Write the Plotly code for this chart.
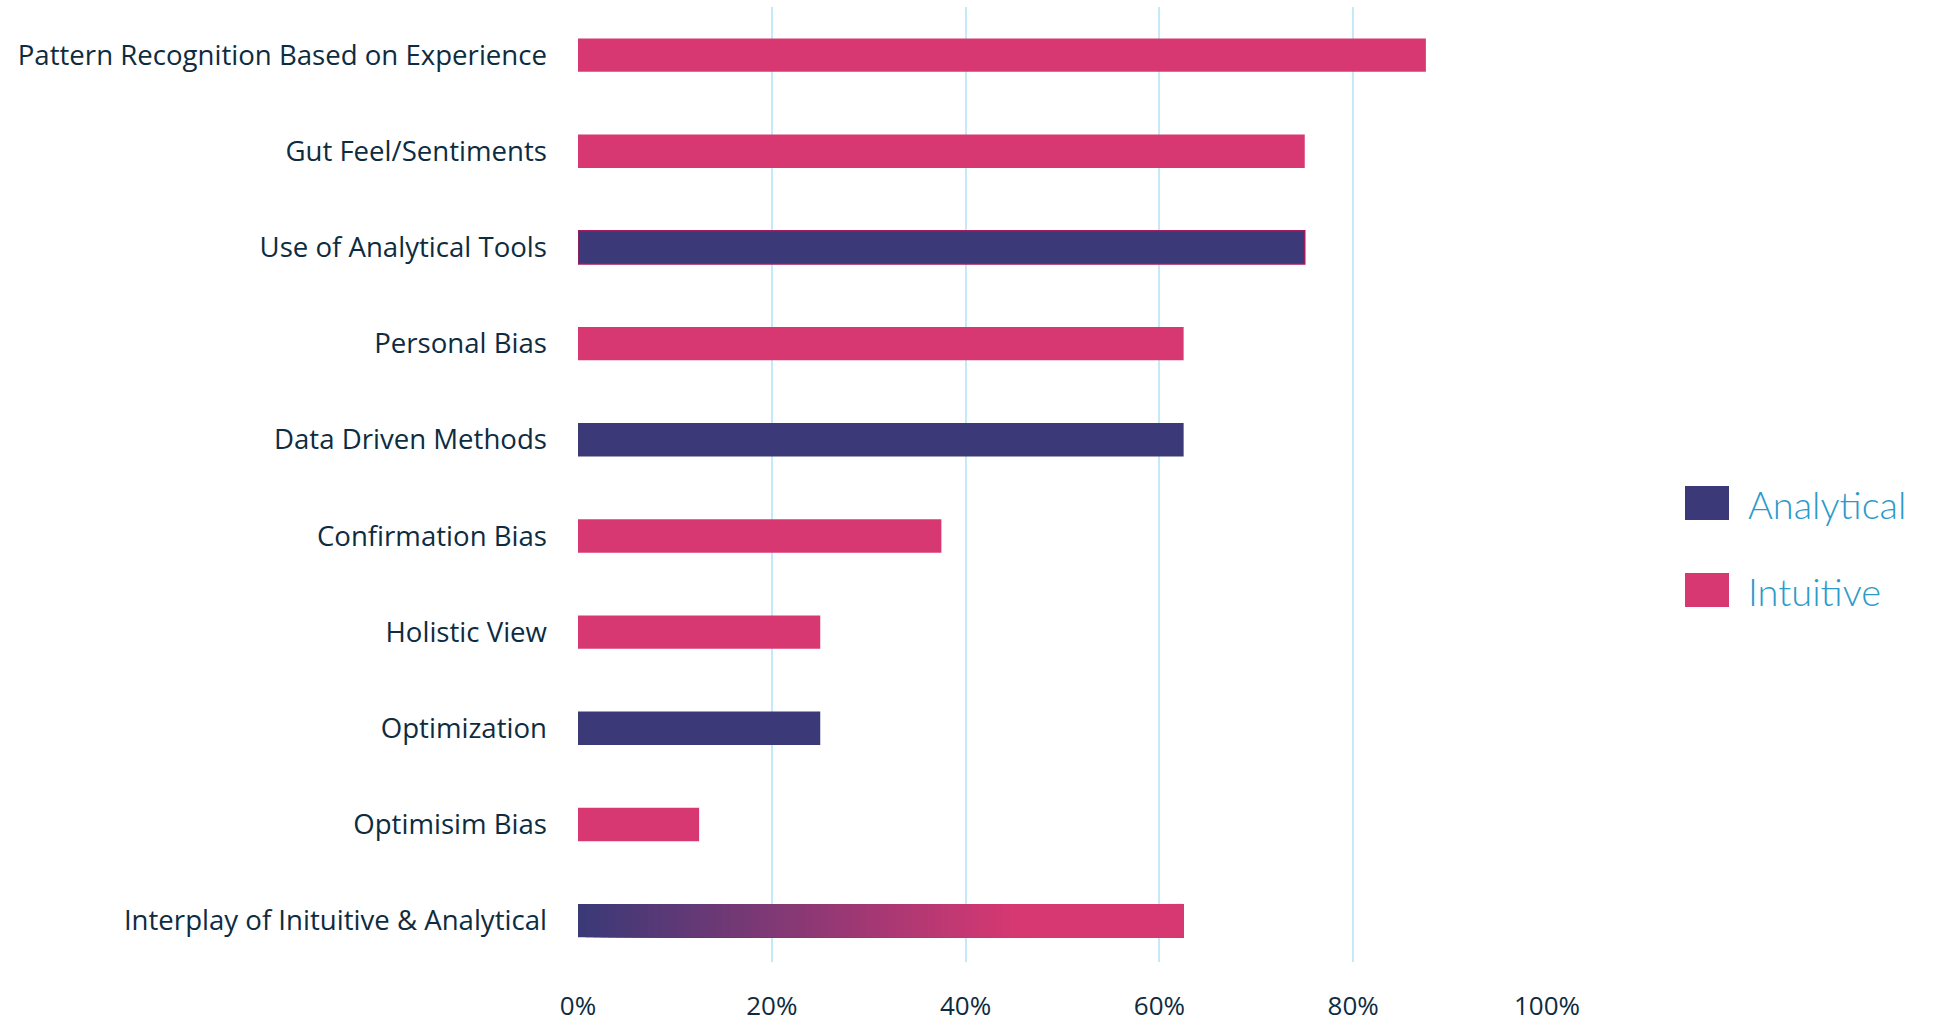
import plotly.graph_objects as go

# Survey results: share of respondents citing each decision-making factor
categories = [
    "Pattern Recognition Based on Experience",
    "Gut Feel/Sentiments",
    "Use of Analytical Tools",
    "Personal Bias",
    "Data Driven Methods",
    "Confirmation Bias",
    "Holistic View",
    "Optimization",
    "Optimisim Bias",
    "Interplay of Inituitive & Analytical",
]
values = [87.5, 75.0, 75.0, 62.5, 62.5, 37.5, 25.0, 25.0, 12.5, 62.5]
kinds = ["Intuitive", "Intuitive", "Analytical", "Intuitive", "Analytical",
         "Intuitive", "Intuitive", "Analytical", "Intuitive", "Mixed"]

tick_vals = [0, 20, 40, 60, 80, 100]
tick_text = ["0%", "20%", "40%", "60%", "80%", "100%"]

NAVY = "#3B3977"
PINK = "#D83872"
TEXT = "#0E2C3F"
GRID = "#C3EAF8"
LEGEND_TEXT = "#2B9ACB"

W, H = 1939, 1023
M_L, M_R, M_T, M_B = 578, 392, 7, 61

fig = go.Figure()

for kind, color in [("Analytical", NAVY), ("Intuitive", PINK)]:
    idx = [i for i, k in enumerate(kinds) if k == kind]
    fig.add_trace(go.Bar(
        y=[categories[i] for i in idx],
        x=[values[i] for i in idx],
        orientation="h",
        name=kind,
        marker=dict(
            color=color,
            line=dict(
                color=["#A01C5E" if categories[i] == "Use of Analytical Tools" else color for i in idx],
                width=[1.5 if categories[i] == "Use of Analytical Tools" else 0 for i in idx],
            ),
        ),
        showlegend=False,
    ))

# Mixed bar: navy fading into pink, built as overlaid segments of the same bar
mix_idx = [i for i, k in enumerate(kinds) if k == "Mixed"]


def blend(c1, c2, t):
    a = [int(c1[j:j + 2], 16) for j in (1, 3, 5)]
    b = [int(c2[j:j + 2], 16) for j in (1, 3, 5)]
    return "rgb({},{},{})".format(*[round(a[k] + (b[k] - a[k]) * t) for k in range(3)])


n_seg = 80
fade_end = 0.72  # fraction of bar length where the colour becomes fully pink
for i in mix_idx:
    total = values[i]
    starts = [total * s / n_seg for s in range(n_seg)]
    fig.add_trace(go.Bar(
        y=[categories[i]] * n_seg,
        x=[total - s for s in starts],
        base=starts,
        orientation="h",
        marker=dict(
            color=[blend(NAVY, PINK, min(1.0, (s / total) / fade_end)) for s in starts],
            line=dict(width=0),
        ),
        showlegend=False,
    ))

fig.update_layout(
    width=W, height=H,
    margin=dict(l=M_L, r=M_R, t=M_T, b=M_B, autoexpand=False),
    paper_bgcolor="white",
    plot_bgcolor="white",
    barmode="overlay",
    bargap=0.653,
    font=dict(family="Open Sans", color=TEXT),
    xaxis=dict(
        range=[0, 100],
        tickvals=tick_vals,
        ticktext=tick_text,
        showgrid=True,
        gridcolor=GRID,
        gridwidth=1.5,
        zeroline=False,
        showline=False,
        ticks="",
        automargin=False,
        ticklabelstandoff=26,
        tickfont=dict(size=26, color=TEXT, family="Open Sans"),
        fixedrange=True,
    ),
    yaxis=dict(
        categoryorder="array",
        categoryarray=categories,
        range=[9.43, -0.5],
        showgrid=False,
        zeroline=False,
        showline=False,
        ticks="",
        automargin=False,
        ticklabelstandoff=30,
        tickfont=dict(size=27.6, color=TEXT, family="Open Sans"),
        fixedrange=True,
    ),
)

# Legend drawn as swatches with labels to the right of the plot
plot_w = W - M_L - M_R
plot_h = H - M_T - M_B


def px_to_paper(x, y):
    return (x - M_L) / plot_w, 1 - (y - M_T) / plot_h


legend_items = [("Analytical", NAVY, 503), ("Intuitive", PINK, 590)]
for label, color, cy in legend_items:
    x0, y0 = px_to_paper(1685, cy - 17)
    x1, y1 = px_to_paper(1729, cy + 17)
    fig.add_shape(type="rect", xref="paper", yref="paper",
                  x0=x0, x1=x1, y0=y1, y1=y0,
                  fillcolor=color, line=dict(width=0))
    tx, ty = px_to_paper(1746, cy + 1)
    fig.add_annotation(xref="paper", yref="paper", x=tx, y=ty,
                       text=label, showarrow=False, xanchor="left", yanchor="middle",
                       font=dict(family="Lato", size=38, color=LEGEND_TEXT, weight=300))

fig.write_html("out.html")
